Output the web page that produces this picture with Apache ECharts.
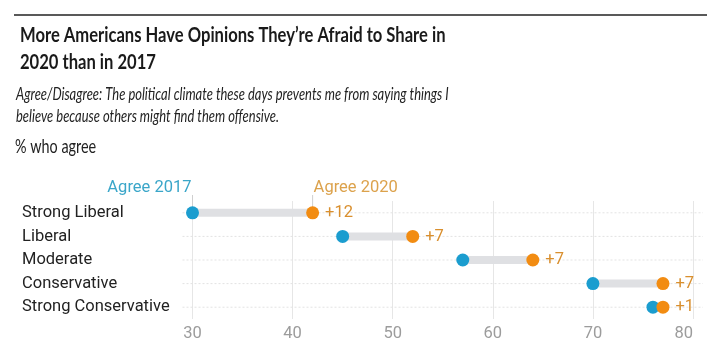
<!DOCTYPE html>
<html><head><meta charset="utf-8">
<script src="https://cdn.jsdelivr.net/npm/echarts@6/dist/echarts.min.js"></script>
<style>html,body{margin:0;padding:0;background:#fff}#c{width:707px;height:350px}</style>
</head><body><div id="c"></div>
<script>
const categories = ['Strong Liberal', 'Liberal', 'Moderate', 'Conservative', 'Strong Conservative'];
const agree2017 = [30, 45, 57, 70, 76];
const agree2020 = [42, 52, 64, 77, 77];
const changeLabels = ['+12', '+7', '+7', '+7', '+1'];
const seriesNames = ['Agree 2017', 'Agree 2020'];
const titleLines = ['More Americans Have Opinions They\u2019re Afraid to Share in', '2020 than in 2017'];
const subtitleLines = ['Agree/Disagree: The political climate these days prevents me from saying things I', 'believe because others might find them offensive.'];
const unitLabel = '% who agree';

const BLUE = '#1b9dcf', ORANGE = '#f28c12';
const FS = 16.5;
const chart = echarts.init(document.getElementById('c'), null, {renderer: 'canvas'});

const option = {
  animation: false,
  backgroundColor: '#fff',
  grid: {left: 192.5, right: 14, top: 201, height: 118},
  xAxis: {
    type: 'value', min: 30, max: 80, interval: 10,
    axisLine: {show: false}, axisTick: {show: false},
    splitLine: {show: true, lineStyle: {color: '#e6e6e6', width: 1}},
    axisLabel: {color: '#9c9c9c', fontSize: FS, fontFamily: 'Roboto', margin: 6, alignMaxLabel: 'right'}
  },
  yAxis: {
    type: 'category', inverse: true, data: categories,
    axisLine: {show: false}, axisTick: {show: false}, splitLine: {show: false},
    axisLabel: {align: 'left', margin: 170.5, color: '#222', fontSize: FS, fontFamily: 'Roboto'}
  },
  series: [
    {
      type: 'custom', z: 1, silent: true,
      data: categories.map((c, i) => [i]),
      renderItem: function (params, api) {
        const cs = params.coordSys;
        const y = api.coord([30, api.value(0)])[1];
        return {type: 'line', shape: {x1: cs.x - 10, y1: y, x2: cs.x + cs.width + 10, y2: y},
          style: {stroke: '#e3e3e3', lineWidth: 1, lineDash: [2, 2]}};
      }
    },
    {
      type: 'custom', z: 2, silent: true,
      data: categories.map((c, i) => [agree2017[i], agree2020[i], i]),
      renderItem: function (params, api) {
        const p1 = api.coord([api.value(0), api.value(2)]);
        const p2 = api.coord([api.value(1), api.value(2)]);
        return {type: 'rect', shape: {x: p1[0], y: p1[1] - 4, width: p2[0] - p1[0], height: 8},
          style: {fill: '#dfe0e3'}};
      }
    },
    {
      name: seriesNames[0], type: 'scatter', z: 3, symbolSize: 13,
      itemStyle: {color: BLUE, opacity: 1},
      data: agree2017.map((v, i) => [v, i])
    },
    {
      name: seriesNames[1], type: 'scatter', z: 4, symbolSize: 13,
      itemStyle: {color: ORANGE, opacity: 1},
      label: {show: true, position: 'right', distance: 6, color: '#d98f2e', fontSize: FS, fontFamily: 'Roboto',
        formatter: p => changeLabels[p.dataIndex]},
      data: agree2020.map((v, i) => [v, i])
    }
  ]
};
chart.setOption(option);

const p17 = chart.convertToPixel({gridIndex: 0}, [agree2017[0], 0]);
const p20 = chart.convertToPixel({gridIndex: 0}, [agree2020[0], 0]);

chart.setOption({
  graphic: [
    {type: 'line', shape: {x1: 14, y1: 15, x2: 707, y2: 15}, style: {stroke: '#222', lineWidth: 1.5}},
    {type: 'text', x: 20, y: 35, scaleX: 0.79, style: {text: titleLines[0], font: 'bold 21px Lato', fill: '#1a1a1a', textVerticalAlign: 'middle'}},
    {type: 'text', x: 20, y: 62, scaleX: 0.79, style: {text: titleLines[1], font: 'bold 21px Lato', fill: '#1a1a1a', textVerticalAlign: 'middle'}},
    {type: 'text', x: 16, y: 95, scaleX: 0.785, style: {text: subtitleLines[0], font: 'italic 16.5px Lato', fill: '#222', textVerticalAlign: 'middle'}},
    {type: 'text', x: 16, y: 117, scaleX: 0.785, style: {text: subtitleLines[1], font: 'italic 16.5px Lato', fill: '#222', textVerticalAlign: 'middle'}},
    {type: 'text', x: 15, y: 147, scaleX: 0.72, style: {text: unitLabel, font: '20px Lato', fill: '#222', textVerticalAlign: 'middle'}},
    {type: 'line', shape: {x1: p17[0], y1: 195, x2: p17[0], y2: p17[1]}, style: {stroke: '#cfcfcf', lineWidth: 1}, z: 0},
    {type: 'line', shape: {x1: p20[0], y1: 195, x2: p20[0], y2: p20[1]}, style: {stroke: '#cfcfcf', lineWidth: 1}, z: 0},
    {type: 'text', x: p17[0] - 1, y: 187.5, style: {text: seriesNames[0], font: FS + 'px Roboto', fill: '#3aa6c9', textAlign: 'right', textVerticalAlign: 'middle'}},
    {type: 'text', x: p20[0] + 1, y: 187.5, style: {text: seriesNames[1], font: FS + 'px Roboto', fill: '#dca24c', textAlign: 'left', textVerticalAlign: 'middle'}}
  ]
});
</script>
</body></html>
